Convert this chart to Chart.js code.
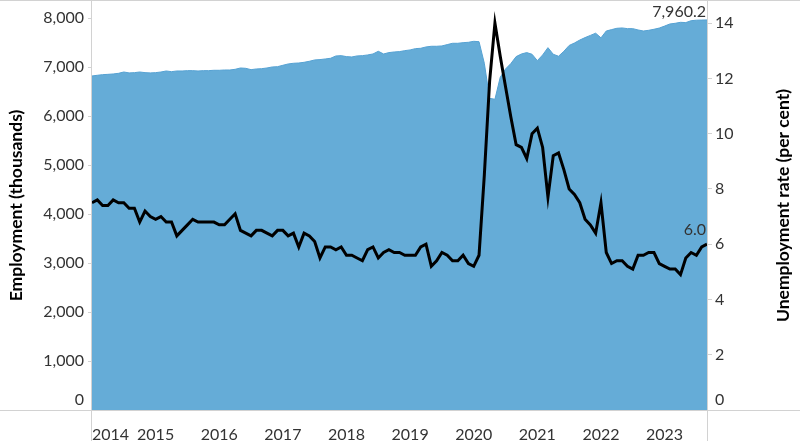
<!DOCTYPE html>
<html>
<head>
<meta charset="utf-8">
<script src="https://cdn.jsdelivr.net/npm/chart.js@4.4.1/dist/chart.umd.min.js"></script>
<style>
  html, body { margin: 0; padding: 0; background: #fff; }
  #chart { display: block; }
</style>
</head>
<body>
<canvas id="chart" width="800" height="441"></canvas>
<script>
// --- data (monthly, Jan 2014 - Sep 2023) ---
const years = ['2014', '2015', '2016', '2017', '2018', '2019', '2020', '2021', '2022', '2023'];
const monthNames = ['Jan', 'Feb', 'Mar', 'Apr', 'May', 'Jun', 'Jul', 'Aug', 'Sep', 'Oct', 'Nov', 'Dec'];
const lastMonths = 9; // 2023 runs to September

// employment, thousands (left axis)
const employment = [
  6817, 6831, 6844, 6850, 6858, 6871, 6898, 6880, 6885, 6898, 6885, 6880,
  6885, 6898, 6919, 6905, 6919, 6919, 6926, 6926, 6919, 6926, 6926, 6933,
  6933, 6939, 6939, 6953, 6980, 6973, 6946, 6960, 6966, 6980, 7001, 7007,
  7035, 7062, 7076, 7082, 7096, 7117, 7144, 7151, 7164, 7178, 7225, 7232,
  7212, 7205, 7226, 7232, 7246, 7266, 7321, 7266, 7294, 7307, 7314, 7334,
  7348, 7375, 7382, 7409, 7423, 7423, 7430, 7457, 7484, 7484, 7497, 7504,
  7524, 7517, 7076, 6361, 6341, 6790, 6960, 7070, 7212, 7266, 7294, 7260,
  7130, 7246, 7395, 7260, 7220, 7320, 7440, 7490, 7550, 7600, 7645, 7690,
  7595, 7735, 7763, 7790, 7797, 7783, 7783, 7756, 7735, 7749, 7770, 7795,
  7835, 7878, 7892, 7912, 7906, 7945, 7955, 7958, 7960.2
];

// unemployment rate, per cent (right axis)
const unemployment = [
  7.5, 7.6, 7.4, 7.4, 7.6, 7.5, 7.5, 7.3, 7.3, 6.8, 7.2, 7.0,
  6.9, 7.0, 6.8, 6.8, 6.3, 6.5, 6.7, 6.9, 6.8, 6.8, 6.8, 6.8,
  6.7, 6.7, 6.9, 7.1, 6.5, 6.4, 6.3, 6.5, 6.5, 6.4, 6.3, 6.5,
  6.5, 6.3, 6.4, 5.9, 6.4, 6.3, 6.1, 5.5, 5.9, 5.9, 5.8, 5.9,
  5.6, 5.6, 5.5, 5.4, 5.8, 5.9, 5.5, 5.7, 5.8, 5.7, 5.7, 5.6,
  5.6, 5.6, 5.9, 6.0, 5.2, 5.4, 5.7, 5.6, 5.4, 5.4, 5.6, 5.3,
  5.2, 5.6, 8.5, 11.9, 14.0, 12.8, 11.7, 10.6, 9.6, 9.5, 9.1, 10.0,
  10.2, 9.5, 7.7, 9.2, 9.3, 8.7, 8.0, 7.8, 7.5, 6.9, 6.7, 6.4,
  7.5, 5.7, 5.3, 5.4, 5.4, 5.2, 5.1, 5.6, 5.6, 5.7, 5.7, 5.3,
  5.2, 5.1, 5.1, 4.9, 5.5, 5.7, 5.6, 5.9, 6.0
];

const leftTitle = 'Employment (thousands)';
const rightTitle = 'Unemployment rate (per cent)';
const endLabels = ['6.0', '7,960.2'];

// month categories built from the year / month lists
const categories = [];
years.forEach((y, yi) => {
  const n = yi === years.length - 1 ? lastMonths : 12;
  for (let m = 0; m < n; m++) categories.push(monthNames[m] + ' ' + y);
});

const FONT = 'Lato, "Open Sans", sans-serif';
const TXT = '#333';
const RULE = '#d2d2d2';

// frame lines, right-hand title, shifted zero labels and end-of-series labels
const decor = {
  id: 'decor',
  afterDraw(chart) {
    const { ctx, chartArea: a, width, height } = chart;
    const yL = chart.scales.yL, yR = chart.scales.yR;
    ctx.save();
    ctx.strokeStyle = RULE;
    ctx.lineWidth = 1;
    ctx.beginPath();
    ctx.moveTo(0, 0.5); ctx.lineTo(width, 0.5);
    ctx.moveTo(0, a.bottom + 0.5); ctx.lineTo(width, a.bottom + 0.5);
    ctx.moveTo(a.left - 0.5, 0); ctx.lineTo(a.left - 0.5, height);
    ctx.moveTo(a.right + 0.5, 0); ctx.lineTo(a.right + 0.5, height);
    ctx.stroke();

    ctx.fillStyle = TXT;
    ctx.font = '16px ' + FONT;
    ctx.textBaseline = 'middle';
    const zeroY = yL.getPixelForValue(0) - 10;
    ctx.textAlign = 'right';
    ctx.fillText('0', a.left - 8, zeroY);
    ctx.textAlign = 'left';
    ctx.fillText('0', a.right + 8, zeroY);

    // labels at the last point of each series
    ctx.textAlign = 'right';
    ctx.textBaseline = 'alphabetic';
    const offs = [9, 3];
    [0, 1].forEach(i => {
      const pts = chart.getDatasetMeta(i).data;
      const p = pts[pts.length - 1];
      ctx.fillText(endLabels[i], a.right - 1, p.y - offs[i]);
    });

    // right axis title, reading upwards like the left one
    ctx.fillStyle = '#000';
    ctx.font = 'bold 17.5px ' + FONT;
    ctx.textAlign = 'center';
    ctx.textBaseline = 'middle';
    ctx.translate(yR.right - 17, (a.top + a.bottom) / 2);
    ctx.rotate(-Math.PI / 2);
    ctx.fillText(rightTitle, 0, 0);
    ctx.restore();
  }
};

const ctx = document.getElementById('chart').getContext('2d');
new Chart(ctx, {
  data: {
    labels: categories,
    datasets: [
      {
        type: 'line',
        label: 'Unemployment rate',
        data: unemployment,
        yAxisID: 'yR',
        borderColor: '#000',
        borderWidth: 3,
        pointRadius: 0,
        tension: 0,
        fill: false,
        order: 0
      },
      {
        type: 'line',
        label: 'Employment',
        data: employment,
        yAxisID: 'yL',
        borderColor: '#56a2d3',
        borderWidth: 1,
        backgroundColor: '#65acd7',
        pointRadius: 0,
        tension: 0,
        fill: 'origin',
        order: 1
      }
    ]
  },
  options: {
    responsive: false,
    animation: false,
    layout: { padding: { top: 1 } },
    plugins: { legend: { display: false }, tooltip: { enabled: false } },
    scales: {
      x: {
        type: 'category',
        offset: false,
        grid: { display: false },
        border: { display: false },
        ticks: {
          autoSkip: false,
          maxRotation: 0,
          minRotation: 0,
          align: 'inner',
          padding: 7,
          color: TXT,
          font: { family: FONT, size: 16 },
          callback: (v, i) => categories[i].startsWith('Jan') ? categories[i].slice(4) : ''
        },
        afterFit(s) { s.height = 31; s.paddingLeft = 0; s.paddingRight = 0; }
      },
      yL: {
        position: 'left',
        beginAtZero: true,
        max: 8347,
        grid: { drawOnChartArea: false, tickLength: 4, color: RULE },
        border: { display: false },
        ticks: {
          stepSize: 1000,
          includeBounds: false,
          padding: 4,
          color: TXT,
          font: { family: FONT, size: 16 },
          callback: v => v === 0 ? '' : v.toLocaleString('en-US')
        },
        title: {
          display: true,
          text: leftTitle,
          color: '#000',
          font: { family: FONT, size: 17.5, weight: 'bold' },
          padding: { top: 6, bottom: 0 }
        },
        afterFit(s) { s.width = 92; s.paddingTop = 0; s.paddingBottom = 0; }
      },
      yR: {
        position: 'right',
        beginAtZero: true,
        max: 14.8,
        grid: { drawOnChartArea: false, tickLength: 5, color: RULE },
        border: { display: false },
        ticks: {
          stepSize: 2,
          includeBounds: false,
          padding: 3,
          color: TXT,
          font: { family: FONT, size: 16 },
          callback: v => v === 0 ? '' : String(v)
        },
        afterFit(s) { s.width = 93; s.paddingTop = 0; s.paddingBottom = 0; }
      }
    }
  },
  plugins: [decor]
});
</script>
</body>
</html>
